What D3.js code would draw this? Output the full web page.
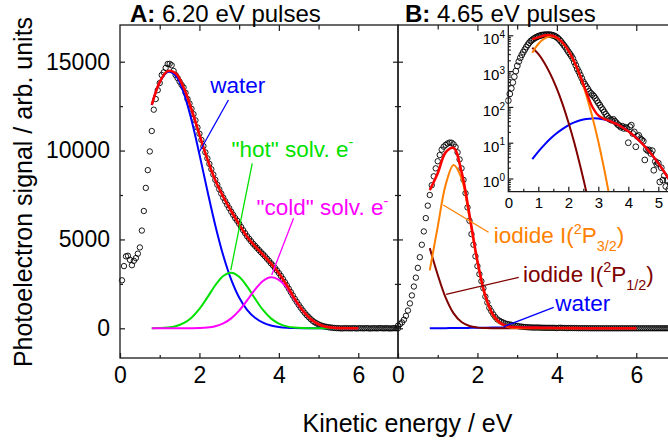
<!DOCTYPE html>
<html>
<head>
<meta charset="utf-8">
<script src="https://cdn.jsdelivr.net/npm/d3@7"></script>
<style>
  body { margin: 0; background: #fff; }
  svg { display: block; font-family: "Liberation Sans", Arial, Helvetica, sans-serif; }
</style>
</head>
<body>
<svg id="chart" width="668" height="441"></svg>
<script>
// ---------- measured spectra (photoelectron counts on a 0.05 eV grid) ----------
const gridStep = 0.05;
const startA = 0.05;   // panel A grid starts at 0.05 eV
const startB = 0.0;    // panel B grid starts at 0 eV

// A: 6.20 eV pulses
const signalA = [
  2700, 3500, 4050, 4080, 3850, 3550, 3800, 3950, 4200, 4550,        // 0.05-0.50
  5500, 6600, 7900, 8900, 9950, 11100, 12300, 12900, 13400, 13800,   // 0.55-1.00
  14250, 14400, 14650, 14870, 14880, 14800, 14480, 14250, 14080, 13880, // 1.05-1.50
  13700, 13550, 13250, 12900, 12650, 12350, 12050, 11700, 11300, 10950, // 1.55-2.00
  10600, 10250, 9900, 9560, 9250, 8950, 8650, 8350, 8080, 7820,      // 2.05-2.50
  7580, 7350, 7150, 6950, 6760, 6560, 6380, 6200, 6050, 5880,        // 2.55-3.00
  5700, 5520, 5350, 5180, 5040, 4900, 4760, 4640, 4520, 4400,        // 3.05-3.50
  4280, 4170, 4050, 3920, 3800, 3660, 3540, 3400, 3260, 3110,        // 3.55-4.00
  2950, 2780, 2600, 2420, 2230, 2040, 1850, 1660, 1490, 1320,        // 4.05-4.50
  1160, 1010, 870, 740, 630, 520, 420, 340, 280, 220,                // 4.55-5.00
  170, 130, 100, 80, 60, 45, 30, 20, 10, 5,                          // 5.05-5.50
  0, -10, 10, 0, 5, -5, 0, 10, -10, 0,                               // 5.55-6.00
  5, 0, -5, 10, 0, -10, 0, 5, -5, 0,                                 // 6.05-6.50
  10, 0, -5, 5, 0, -10, 0, 5, 0, -5                                  // 6.55-7.00
];

// B: 4.65 eV pulses
const signalB = [
  150, 230, 330, 480, 700, 1000, 1400, 1850, 2350, 2850,             // 0.00-0.45
  3400, 4000, 4700, 5450, 6200, 6900, 7500, 8050, 8550, 9000,        // 0.50-0.95
  9400, 9750, 10050, 10220, 10320, 10400, 10450, 10440, 10350, 10200, // 1.00-1.45
  9900, 9500, 9000, 8350, 7600, 6800, 6050, 5300, 4700, 4050,        // 1.50-1.95
  3500, 3050, 2650, 2250, 1780, 1450, 1150, 960, 780, 630,           // 2.00-2.45
  500, 430, 370, 320, 270, 240, 220, 200, 175, 150,                  // 2.50-2.95
  130, 112, 96, 84, 72, 62, 55, 48, 44, 42,                          // 3.00-3.45
  45, 40, 36, 32, 30, 27, 29, 25, 27, 25,                            // 3.50-3.95
  10, 28, 31, 18, 20, 7.7, 15, 16, 13, 12,                           // 4.00-4.45
  11, 3.3, 6.5, 6, 6.3, 5, 6, 1.7, 3, 2.5,                           // 4.50-4.95
  2.7, 0.8, 2, 0.9, 1.2, 0.6, 0.9, 0.5, 0.7, 0.4,                    // 5.00-5.45
  0.6, 0.3, 0.5, 0.8, 0.4, 0.6, 0.5, 0.3, 0.7, 0.4,                  // 5.50-5.95
  0.5, 0.6, 0.3, 0.5, 0.4, 0.7, 0.5, 0.3, 0.6, 0.4,                  // 6.00-6.45
  0.5, 0.4, 0.6, 0.3, 0.5, 0.7, 0.4, 0.5, 0.3, 0.6,                  // 6.50-6.95
  0.5                                                                // 7.00
];

// ---------- fitted components, sampled at these energies ----------
const fitE = [0.8, 1.0, 1.2, 1.4, 1.6, 1.8, 2.0, 2.2, 2.4, 2.6, 2.8, 3.0, 3.2, 3.4,
              3.6, 3.8, 4.0, 4.2, 4.4, 4.6, 4.8, 5.0, 5.2, 5.4, 5.6, 5.8, 6.0];

const fitA_water = [12561, 13839, 14425, 14227, 13275, 11720, 9791, 7738, 5786, 4094, 2740, 1736, 1040, 589,
                    316, 160, 77, 35, 15, 6, 2.5, 1, 0, 0, 0, 0, 0];
const fitA_hot   = [4, 14, 44, 120, 286, 598, 1091, 1738, 2421, 2945, 3130, 2905, 2356, 1670,
                    1033, 559, 264, 109, 39, 12, 3, 1, 0, 0, 0, 0, 0];
const fitA_cold  = [0, 0, 0, 0, 1, 5, 16, 46, 120, 276, 559, 997, 1568, 2175,
                    2660, 2868, 2727, 2287, 1600, 990, 515, 228, 79, 25, 8, 2, 0];
const fitA_total = [12565, 13853, 14469, 14347, 13562, 12323, 10898, 9522, 8327, 7400, 6600, 5850, 5150, 4620,
                    4150, 3650, 3100, 2420, 1655, 1003, 521, 230, 80, 25, 8, 2, 0];

const fitB_water = [3.46, 5.64, 8.73, 12.9, 18.0, 24.0, 30.5, 36.8, 42.2, 46.0, 47.8, 47.2, 44.3, 39.6,
                    33.7, 27.2, 20.9, 15.3, 10.7, 7.06, 4.45, 2.66, 1.52, 0.82, 0.42, 0.21, 0.097];
const fitB_p32   = [3260, 5710, 8070, 9190, 8430, 6230, 3710, 1778, 686, 213, 53, 10.8, 1.75, 0.23,
                    0.024, 0.002, 0, 0, 0, 0, 0, 0, 0, 0, 0, 0, 0];
const fitB_p12   = [4510, 3013, 1722, 839, 351, 126, 38, 10, 2.2, 0.43, 0.07, 0.0098, 0.0011, 0,
                    0, 0, 0, 0, 0, 0, 0, 0, 0, 0, 0, 0, 0];
const fitB_total = [7774, 8729, 9900, 10150, 8799, 6380, 3779, 1825, 730, 259, 101, 58, 46, 39.8,
                    33.7, 27.2, 20.9, 15.3, 10.7, 7.06, 4.45, 2.66, 1.52, 0.82, 0.42, 0.21, 0.097];

// axis tick values
const yMajor = [0, 5000, 10000, 15000];
const yMinor = [2500, 7500, 12500];
const xLabelled = [0, 2, 4, 6];
const xMinor = [1, 3, 5];
const insetXMajor = [0, 1, 2, 3, 4, 5];
const insetYMajor = [1, 10, 100, 1000, 10000];

// ---------- layout ----------
const svg = d3.select('#chart');
const plotTop = 25, plotBottom = 358;
const xA = d3.scaleLinear().domain([0, 7]).range([120, 398]);
const xB = d3.scaleLinear().domain([0, 7]).range([398, 676]);
const y  = d3.scaleLinear().domain([-1671, 17065]).range([plotBottom, plotTop]);

const xI = d3.scaleLinear().domain([0, 5.5]).range([508.3, 673.3]);
const yI = d3.scaleLog().domain([0.428, 19400]).range([191.7, plotTop]);

const colors = {
  total: '#ff0000', water: '#0000ff', hot: '#00e100', cold: '#ff00ff',
  p32: '#ff8000', p12: '#800000', axis: '#1a1a1a'
};

const pts = (vals, start) => vals.map((v, i) => ({ e: start + i * gridStep, v }));
const dataA = pts(signalA, startA);
const dataB = pts(signalB, startB);
const fit = vals => vals.map((v, i) => ({ e: fitE[i], v }));

function drawCircles(g, data, xs, ys, r) {
  g.selectAll(null).data(data).enter().append('circle')
    .attr('cx', d => xs(d.e)).attr('cy', d => ys(d.v)).attr('r', r)
    .attr('fill', 'none').attr('stroke', '#000').attr('stroke-width', 0.9);
}
function drawCurve(g, vals, xs, ys, color, width, floor) {
  const line = d3.line()
    .x(d => xs(d.e))
    .y(d => ys(floor ? Math.max(d.v, floor) : d.v))
    .curve(d3.curveCatmullRom.alpha(0.5));
  g.append('path').datum(fit(vals)).attr('d', line)
    .attr('fill', 'none').attr('stroke', color).attr('stroke-width', width)
    .attr('stroke-linejoin', 'round').attr('stroke-linecap', 'butt');
}

// rich label: parts = [text, mode] with mode '', 'sup' or 'sub'
function richLabel(g, x, yPos, color, parts, size) {
  const t = g.append('text').attr('x', x).attr('y', yPos)
    .attr('fill', color).attr('font-size', size);
  let shift = 0;
  parts.forEach(([txt, mode]) => {
    let target = 0, fs = size;
    if (mode === 'sup') { target = -size * 0.42; fs = size * 0.64; }
    if (mode === 'sub') { target = size * 0.36; fs = size * 0.64; }
    t.append('tspan').attr('dy', target - shift).attr('font-size', fs).text(txt);
    shift = target;
  });
  return t;
}
function leader(g, xs, a, b, color) {
  g.append('line')
    .attr('x1', xs(a[0])).attr('y1', y(a[1]))
    .attr('x2', xs(b[0])).attr('y2', y(b[1]))
    .attr('stroke', color).attr('stroke-width', 1.3);
}

// ---------- panel contents ----------
const gA = svg.append('g');
drawCircles(gA, dataA, xA, y, 2.7);
drawCurve(gA, fitA_water, xA, y, colors.water, 2);
drawCurve(gA, fitA_hot,   xA, y, colors.hot, 2);
drawCurve(gA, fitA_cold,  xA, y, colors.cold, 2);
drawCurve(gA, fitA_total, xA, y, colors.total, 2.6);

const gB = svg.append('g');
drawCircles(gB, dataB, xB, y, 2.7);
drawCurve(gB, fitB_water, xB, y, colors.water, 2);
drawCurve(gB, fitB_p12,   xB, y, colors.p12, 2);
drawCurve(gB, fitB_p32,   xB, y, colors.p32, 2);
drawCurve(gB, fitB_total, xB, y, colors.total, 2.6);

// annotations
const labelSize = 22.5;
const gL = svg.append('g');
leader(gL, xA, [2.73, 12845], [2.0, 9936], colors.water);
richLabel(gL, xA(2.27), y(13257), colors.water, [['water', '']], labelSize);
leader(gL, xA, [3.33, 9284], [2.79, 3280], colors.hot);
richLabel(gL, xA(2.81), y(9655), colors.hot, [['"hot" solv. e', ''], ['-', 'sup']], labelSize);
leader(gL, xA, [4.37, 6189], [3.82, 2999], colors.cold);
richLabel(gL, xA(3.44), y(6375), colors.cold, [['"cold" solv. e', ''], ['-', 'sup']], labelSize);

leader(gL, xB, [2.28, 5401], [1.14, 6937], colors.p32);
richLabel(gL, xB(2.41), y(4782), colors.p32,
  [['iodide I(', ''], ['2', 'sup'], ['P', ''], ['3/2', 'sub'], [')', '']], labelSize);
leader(gL, xB, [3.04, 2870], [1.21, 1913], colors.p12);
richLabel(gL, xB(3.15), y(2622), colors.p12,
  [['iodide I(', ''], ['2', 'sup'], ['P', ''], ['1/2', 'sub'], [')', '']], labelSize);
leader(gL, xB, [3.92, 1182], [2.66, 90], colors.water);
richLabel(gL, xB(3.96), y(990), colors.water, [['water', '']], labelSize);

// ---------- inset (log scale) ----------
const gI = svg.append('g');
gI.append('rect')
  .attr('x', xI(0)).attr('y', plotTop)
  .attr('width', 680 - xI(0)).attr('height', yI(0.428) - plotTop)
  .attr('fill', '#fff');
svg.append('clipPath').attr('id', 'insetClip').append('rect')
  .attr('x', xI(0) - 3).attr('y', plotTop)
  .attr('width', 680 - xI(0)).attr('height', yI(0.428) - plotTop);
const gIc = gI.append('g').attr('clip-path', 'url(#insetClip)');
drawCircles(gIc, dataB.filter(d => d.v > 0 && d.e <= 5.5), xI, yI, 2.9);
drawCurve(gIc, fitB_water, xI, yI, colors.water, 2, 1e-3);
drawCurve(gIc, fitB_p12,   xI, yI, colors.p12, 2, 1e-3);
drawCurve(gIc, fitB_p32,   xI, yI, colors.p32, 2, 1e-3);
drawCurve(gIc, fitB_total, xI, yI, colors.total, 2.4, 1e-3);

function styleAxis(g, fontSize) {
  g.select('.domain').remove();
  g.selectAll('line').attr('stroke', colors.axis).attr('stroke-width', 1.2);
  g.selectAll('text').attr('fill', '#000').attr('font-size', fontSize)
    .attr('font-family', '"Liberation Sans", Arial, sans-serif');
}

const insetBottom = yI(0.428);
const insetMinorY = [];
[-1, 0, 1, 2, 3].forEach(k => {
  for (let m = 2; m <= 9; m++) {
    const v = m * Math.pow(10, k);
    if (v > 0.428 && v < 19400) insetMinorY.push(v);
  }
});
const gIL = gI.append('g').attr('transform', `translate(${xI(0)},0)`)
  .call(d3.axisLeft(yI).tickValues(insetYMajor).tickSize(-5).tickPadding(3.3).tickFormat(''));
styleAxis(gIL, 15);
gIL.selectAll('.tick text').attr('dy', '0.56em').each(function (d) {
  const t = d3.select(this);
  t.append('tspan').text('10');
  t.append('tspan').attr('dy', '-0.62em').attr('font-size', 10).text(Math.round(Math.log10(d)));
});
styleAxis(gI.append('g').attr('transform', `translate(${xI(0)},0)`)
  .call(d3.axisLeft(yI).tickValues(insetMinorY).tickSize(-2.5).tickFormat('')), 15);

styleAxis(gI.append('g').attr('transform', `translate(0,${insetBottom})`)
  .call(d3.axisBottom(xI).tickValues(insetXMajor).tickSize(-5).tickPadding(5.5).tickFormat(d3.format('d'))), 15);
styleAxis(gI.append('g').attr('transform', `translate(0,${insetBottom})`)
  .call(d3.axisBottom(xI).tickValues([0.5, 1.5, 2.5, 3.5, 4.5, 5.5]).tickSize(-3).tickFormat('')), 15);

gI.append('path')
  .attr('d', `M${xI(0)},${plotTop}V${insetBottom}H680`)
  .attr('fill', 'none').attr('stroke', colors.axis).attr('stroke-width', 1.3);

// ---------- main frames and axes ----------
const gF = svg.append('g');
[[xA, 120, 398], [xB, 398, 676]].forEach(([xs, x0, x1], idx) => {
  gF.append('rect').attr('x', x0).attr('y', plotTop)
    .attr('width', x1 - x0).attr('height', plotBottom - plotTop)
    .attr('fill', 'none').attr('stroke', colors.axis).attr('stroke-width', 1.3);

  // bottom
  styleAxis(gF.append('g').attr('transform', `translate(0,${plotBottom})`)
    .call(d3.axisBottom(xs).tickValues(xLabelled).tickSize(-5).tickPadding(8.5).tickFormat(d3.format('d'))), 23);
  styleAxis(gF.append('g').attr('transform', `translate(0,${plotBottom})`)
    .call(d3.axisBottom(xs).tickValues(xMinor).tickSize(-3).tickFormat('')), 23);
  // top
  styleAxis(gF.append('g').attr('transform', `translate(0,${plotTop})`)
    .call(d3.axisTop(xs).tickValues(xLabelled.filter(v => v > 0)).tickSize(-6).tickFormat('')), 23);
  styleAxis(gF.append('g').attr('transform', `translate(0,${plotTop})`)
    .call(d3.axisTop(xs).tickValues(xMinor).tickSize(-4.5).tickFormat('')), 23);

  // left and right
  const left = d3.axisLeft(y).tickValues(yMajor).tickSize(-5).tickPadding(10)
    .tickFormat(idx === 0 ? d3.format('d') : '');
  styleAxis(gF.append('g').attr('transform', `translate(${x0},0)`).call(left), 23);
  styleAxis(gF.append('g').attr('transform', `translate(${x0},0)`)
    .call(d3.axisLeft(y).tickValues(yMinor).tickSize(-3).tickFormat('')), 23);
  styleAxis(gF.append('g').attr('transform', `translate(${x1},0)`)
    .call(d3.axisRight(y).tickValues(yMajor).tickSize(-5).tickFormat('')), 23);
  styleAxis(gF.append('g').attr('transform', `translate(${x1},0)`)
    .call(d3.axisRight(y).tickValues(yMinor).tickSize(-3).tickFormat('')), 23);
});

// ---------- titles ----------
const titleSize = 24;
const titleBase = 21.5;
const tA = svg.append('text').attr('x', 130).attr('y', titleBase).attr('font-size', titleSize);
tA.append('tspan').attr('font-weight', 'bold').text('A:');
tA.append('tspan').text(' 6.20 eV pulses');
const tB = svg.append('text').attr('x', 405).attr('y', titleBase).attr('font-size', titleSize);
tB.append('tspan').attr('font-weight', 'bold').text('B:');
tB.append('tspan').text(' 4.65 eV pulses');

svg.append('text').attr('x', 407.5).attr('y', 431.5)
  .attr('text-anchor', 'middle').attr('font-size', 25)
  .text('Kinetic energy / eV');
svg.append('text')
  .attr('transform', 'translate(31.5,192) rotate(-90)')
  .attr('text-anchor', 'middle').attr('font-size', 25)
  .text('Photoelectron signal / arb. units');
</script>
</body>
</html>
